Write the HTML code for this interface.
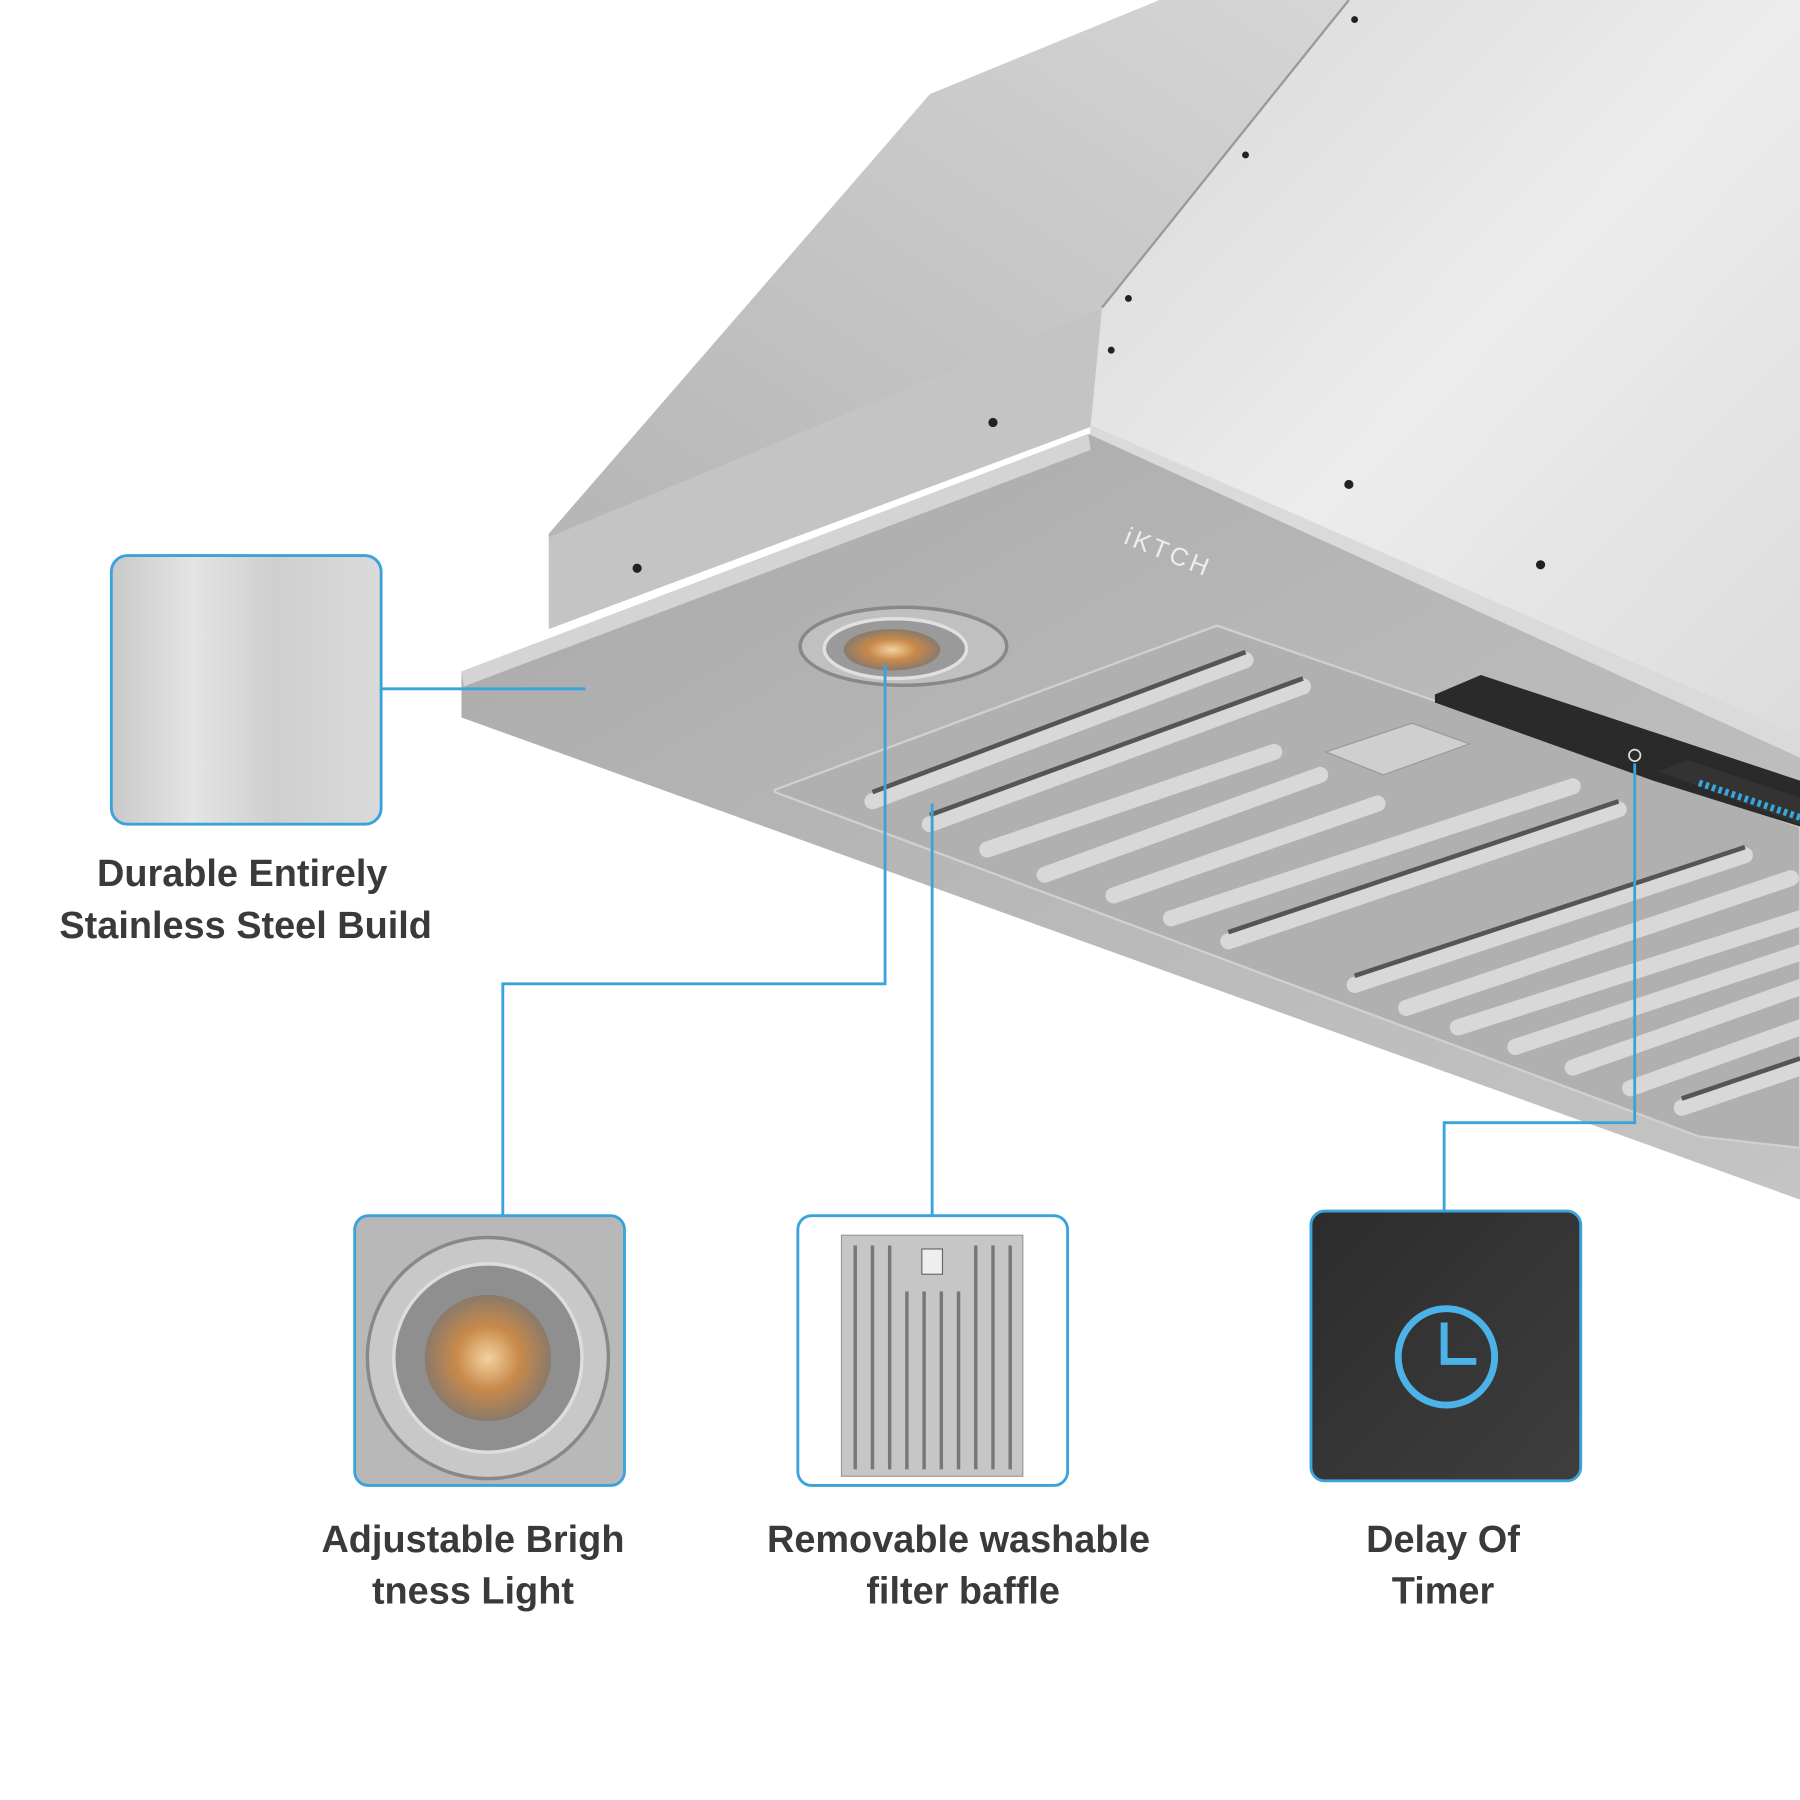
<!DOCTYPE html>
<html><head><meta charset="utf-8"><style>
html,body{margin:0;padding:0;background:#fff;width:1800px;height:1800px;overflow:hidden}
svg{display:block}
text{font-family:"Liberation Sans",sans-serif;font-weight:bold;fill:#3a3a3a;font-size:33px;text-anchor:middle}
</style></head><body>
<svg width="1800" height="1800" viewBox="0 0 1568 1568" xmlns="http://www.w3.org/2000/svg">
<defs>
<linearGradient id="steel" x1="0" y1="0" x2="1" y2="0">
<stop offset="0" stop-color="#c9c9c9"/><stop offset="0.3" stop-color="#e4e4e4"/><stop offset="0.6" stop-color="#cfcfcf"/><stop offset="1" stop-color="#dadada"/></linearGradient>
<linearGradient id="slope" x1="0" y1="1" x2="1" y2="0">
<stop offset="0" stop-color="#b5b5b5"/><stop offset="1" stop-color="#d6d6d6"/></linearGradient>
<linearGradient id="front" x1="0" y1="0" x2="1" y2="1">
<stop offset="0" stop-color="#d8d8d8"/><stop offset="0.5" stop-color="#ececec"/><stop offset="1" stop-color="#dcdcdc"/></linearGradient>
<linearGradient id="bottom" x1="0" y1="0" x2="1" y2="1">
<stop offset="0" stop-color="#a9a9a9"/><stop offset="0.5" stop-color="#b8b8b8"/><stop offset="1" stop-color="#c4c4c4"/></linearGradient>
<linearGradient id="dark" x1="0" y1="0" x2="1" y2="1">
<stop offset="0" stop-color="#2c2c2c"/><stop offset="1" stop-color="#3e3e3e"/></linearGradient>
<radialGradient id="led"><stop offset="0" stop-color="#f3d2a0"/><stop offset="0.5" stop-color="#c98a4a"/><stop offset="1" stop-color="#8a7a6a"/></radialGradient>
</defs>
<!-- hood -->
<polygon points="478,465 810,82 1010,0 1175,0 960,268 478,470" fill="url(#slope)"/>
<polygon points="960,268 1175,0 1568,0 1568,640 950,370" fill="url(#front)"/>
<line x1="960" y1="268" x2="1175" y2="0" stroke="#999" stroke-width="2"/>
<polygon points="478,468 960,268 950,372 478,548" fill="#c4c4c4"/>
<polygon points="950,370 1568,640 1568,700 948,405" fill="#dadada"/>
<polygon points="402,585 948,378 1568,660 1568,1045 402,625" fill="url(#bottom)"/>
<polygon points="402,585 948,378 950,392 404,598" fill="#d4d4d4"/>
<!-- baffle area -->
<polygon points="675,688 1060,545 1568,720 1568,1000 1480,990 675,690" fill="#b0b0b0" stroke="#d0d0d0" stroke-width="2"/>
<g stroke="#d8d8d8" stroke-width="14" stroke-linecap="round">
<line x1="760" y1="698" x2="1085" y2="575"/><line x1="810" y1="718" x2="1135" y2="598"/>
<line x1="860" y1="740" x2="1110" y2="655"/><line x1="910" y1="762" x2="1150" y2="675"/>
<line x1="970" y1="780" x2="1200" y2="700"/><line x1="1020" y1="800" x2="1370" y2="685"/>
<line x1="1070" y1="820" x2="1410" y2="705"/>
<line x1="1180" y1="858" x2="1520" y2="745"/><line x1="1225" y1="878" x2="1560" y2="765"/>
<line x1="1270" y1="895" x2="1568" y2="800"/><line x1="1320" y1="912" x2="1568" y2="830"/>
<line x1="1370" y1="930" x2="1568" y2="860"/><line x1="1420" y1="948" x2="1568" y2="895"/>
<line x1="1465" y1="965" x2="1568" y2="930"/>
</g>
<g stroke="#555" stroke-width="4">
<line x1="760" y1="690" x2="1085" y2="568"/><line x1="810" y1="710" x2="1135" y2="591"/>
<line x1="1070" y1="812" x2="1410" y2="698"/><line x1="1180" y1="850" x2="1520" y2="738"/>
<line x1="1465" y1="957" x2="1568" y2="922"/>
</g>
<polygon points="1155,655 1230,630 1280,648 1205,675" fill="#cfcfcf" stroke="#999"/>
<!-- control panel -->
<polygon points="1250,605 1290,588 1568,680 1568,720 1440,680 1250,612" fill="#2a2a2a"/>
<polygon points="1445,672 1470,662 1568,695 1568,718" fill="#333"/>
<line x1="1480" y1="682" x2="1568" y2="712" stroke="#3aa6e0" stroke-width="6" stroke-dasharray="3 3"/>
<circle cx="1424" cy="658" r="5" fill="none" stroke="#ddd" stroke-width="1.5"/>
<text x="1015" y="488" transform="rotate(22 1015 488)" style="font-size:22px;fill:#eee;font-weight:normal;letter-spacing:3px">iKTCH</text>
<!-- light -->
<ellipse cx="787" cy="563" rx="90" ry="34" fill="#c0c0c0" stroke="#888" stroke-width="3"/>
<ellipse cx="780" cy="565" rx="62" ry="26" fill="#9a9a9a" stroke="#e0e0e0" stroke-width="3"/>
<ellipse cx="777" cy="566" rx="42" ry="18" fill="url(#led)"/>
<!-- screws -->
<g fill="#222"><circle cx="555" cy="495" r="4"/><circle cx="865" cy="368" r="4"/><circle cx="1175" cy="422" r="4"/><circle cx="1342" cy="492" r="4"/><circle cx="968" cy="305" r="3"/><circle cx="983" cy="260" r="3"/><circle cx="1085" cy="135" r="3"/><circle cx="1180" cy="17" r="3"/></g>
<!-- callout lines -->
<g fill="none" stroke="#3ba3dc" stroke-width="2.5">
<polyline points="332,600 510,600"/>
<polyline points="771,578 771,857 438,857 438,1059"/>
<polyline points="812,700 812,1059"/>
<polyline points="1424,665 1424,978 1258,978 1258,1055"/>
</g>
<!-- boxes -->
<rect x="97" y="484" width="235" height="234" rx="14" fill="url(#steel)" stroke="#3ba3dc" stroke-width="2.5"/>
<rect x="309" y="1059" width="235" height="235" rx="12" fill="#b8b8b8" stroke="#3ba3dc" stroke-width="2.5"/>
<circle cx="425" cy="1183" r="105" fill="#c8c8c8" stroke="#888" stroke-width="3"/>
<circle cx="425" cy="1183" r="82" fill="#8f8f8f" stroke="#ddd" stroke-width="3"/>
<circle cx="425" cy="1183" r="55" fill="url(#led)"/>
<rect x="695" y="1059" width="235" height="235" rx="12" fill="#fff" stroke="#3ba3dc" stroke-width="2.5"/>
<rect x="733" y="1076" width="158" height="210" fill="#c6c6c6" stroke="#999"/>
<g stroke="#777" stroke-width="3">
<line x1="745" y1="1085" x2="745" y2="1280"/><line x1="760" y1="1085" x2="760" y2="1280"/><line x1="775" y1="1085" x2="775" y2="1280"/>
<line x1="790" y1="1125" x2="790" y2="1280"/><line x1="805" y1="1125" x2="805" y2="1280"/><line x1="820" y1="1125" x2="820" y2="1280"/><line x1="835" y1="1125" x2="835" y2="1280"/>
<line x1="850" y1="1085" x2="850" y2="1280"/><line x1="865" y1="1085" x2="865" y2="1280"/><line x1="880" y1="1085" x2="880" y2="1280"/>
</g>
<rect x="803" y="1088" width="18" height="22" fill="#eee" stroke="#666"/>
<rect x="1142" y="1055" width="235" height="235" rx="12" fill="url(#dark)" stroke="#3ba3dc" stroke-width="2.5"/>
<circle cx="1260" cy="1182" r="42" fill="none" stroke="#4bb3e8" stroke-width="6"/>
<polyline points="1258,1152 1258,1186 1286,1186" fill="none" stroke="#4bb3e8" stroke-width="6"/>
<!-- labels -->
<text x="211" y="772">Durable Entirely</text>
<text x="214" y="817">Stainless Steel Build</text>
<text x="412" y="1352">Adjustable Brigh</text>
<text x="412" y="1397">tness Light</text>
<text x="835" y="1352">Removable washable</text>
<text x="839" y="1397">filter baffle</text>
<text x="1257" y="1352">Delay Of</text>
<text x="1257" y="1397">Timer</text>
</svg>
</body></html>
